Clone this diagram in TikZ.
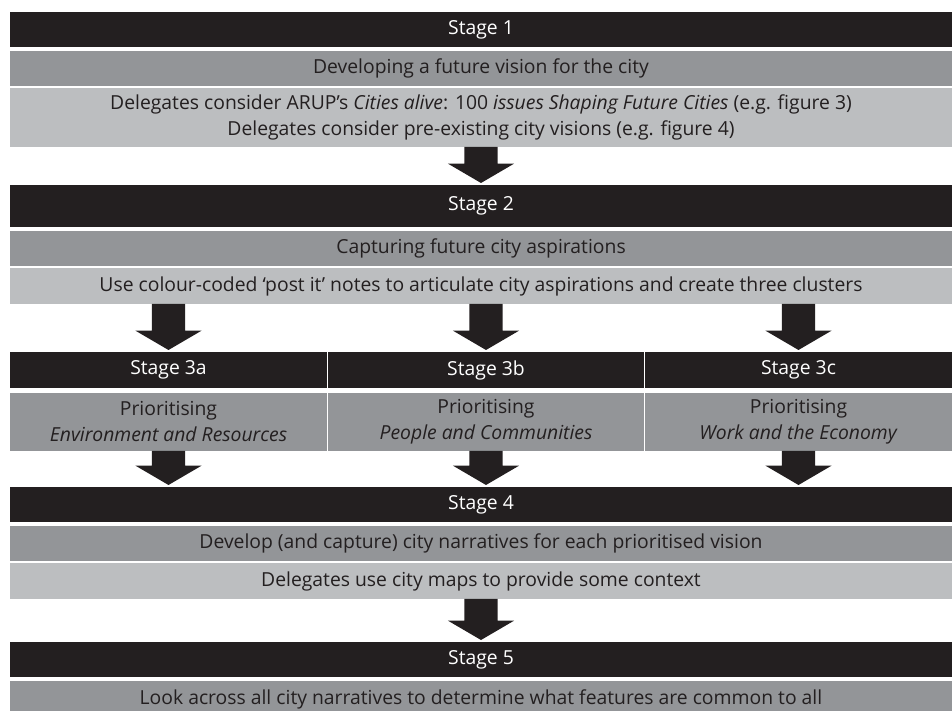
\documentclass[tikz,border=0pt]{standalone}
\usepackage{fontspec}
\setmainfont{Open Sans}
\usetikzlibrary{calc}
\definecolor{stageblack}{HTML}{231F20}
\definecolor{darkgrey}{HTML}{939598}
\definecolor{lightgrey}{HTML}{BCBEC0}
% block arrow from a start point down to a tip point
\newcommand{\blockarr}[2]{%
	\fill[stageblack] let \p1=(#1), \p2=(#2) in
		(\x1-12.4pt,\y1) -- (\x1+12.4pt,\y1) -- (\x1+12.4pt,\y2+16pt) -- (\x1+24.8pt,\y2+16pt)
		-- (\x1,\y2+1.5pt) -- (\x1-24.8pt,\y2+16pt) -- (\x1-12.4pt,\y2+16pt) -- cycle;}

\begin{document}
\begin{tikzpicture}[x=1pt,y=1pt,
	every node/.style={font=\fontsize{14.5}{19.5}\selectfont},
	box/.style={rectangle, inner sep=0pt, outer sep=0pt, align=center, text=stageblack},
	stagebox/.style={box, fill=stageblack, text=white},
	darkbox/.style={box, fill=darkgrey},
	lightbox/.style={box, fill=lightgrey}]
	\useasboundingbox (0,0) rectangle (714,532.5);
	%\draw[step=50,color=gray] (0,0) grid (714,532.5);
	% stage 1
	\node[stagebox, minimum width=706.5pt, minimum height=26.25pt] (st1) at (360.75,510.375) {Stage 1};
	\node[darkbox, minimum width=706.5pt, minimum height=26.25pt] (dv1) at (360.75,481.125) {Developing a future vision for the city};
	\node[lightbox, minimum width=706.5pt, minimum height=44.25pt] (lt1) at (360.75,444.375)
		{Delegates consider ARUP’s \emph{Cities alive}: 100 \emph{issues Shaping Future Cities} (e.g. figure 3)\\
		Delegates consider pre-existing city visions (e.g. figure 4)};
	% stage 2
	\node[stagebox, minimum width=706.5pt, minimum height=31.5pt] (st2) at (360.75,378) {Stage 2};
	\node[darkbox, minimum width=706.5pt, minimum height=26.25pt] (dv2) at (360.75,346.125) {Capturing future city aspirations};
	\node[lightbox, minimum width=706.5pt, minimum height=27pt] (lt2) at (360.75,318)
		{Use colour-coded ‘post it’ notes to articulate city aspirations and create three clusters};
	% stage 3
	\node[stagebox, minimum width=237.75pt, minimum height=27pt] (st3a) at (126.375,255) {Stage 3a};
	\node[stagebox, minimum width=237pt, minimum height=27pt] (st3b) at (364.5,255) {Stage 3b};
	\node[stagebox, minimum width=230.25pt, minimum height=27pt] (st3c) at (598.875,255) {Stage 3c};
	\node[darkbox, minimum width=237.75pt, minimum height=43.5pt] (pr3a) at (126.375,216) {Prioritising\\\emph{Environment and Resources}};
	\node[darkbox, minimum width=237pt, minimum height=43.5pt] (pr3b) at (364.5,216) {Prioritising\\\emph{People and Communities}};
	\node[darkbox, minimum width=230.25pt, minimum height=43.5pt] (pr3c) at (598.875,216) {Prioritising\\\emph{Work and the Economy}};
	% stage 4
	\node[stagebox, minimum width=706.5pt, minimum height=26.25pt] (st4) at (360.75,154.125) {Stage 4};
	\node[darkbox, minimum width=706.5pt, minimum height=26.25pt] (dv4) at (360.75,124.875) {Develop (and capture) city narratives for each prioritised vision};
	\node[lightbox, minimum width=706.5pt, minimum height=27pt] (lt4) at (360.75,96.75) {Delegates use city maps to provide some context};
	% stage 5
	\node[stagebox, minimum width=706.5pt, minimum height=26.25pt] (st5) at (360.75,37.875) {Stage 5};
	\node[darkbox, minimum width=706.5pt, minimum height=27pt] (dv5) at (360.75,8.25) {Look across all city narratives to determine what features are common to all};
	% arrows
	\blockarr{lt1.south}{st2.north};
	\blockarr{lt2.south -| st3a.north}{st3a.north};
	\blockarr{lt2.south -| st3b.north}{st3b.north};
	\blockarr{lt2.south -| st3c.north}{st3c.north};
	\blockarr{pr3a.south}{pr3a.south |- st4.north};
	\blockarr{pr3b.south}{pr3b.south |- st4.north};
	\blockarr{pr3c.south}{pr3c.south |- st4.north};
	\blockarr{lt4.south}{st5.north};
\end{tikzpicture}
\end{document}
